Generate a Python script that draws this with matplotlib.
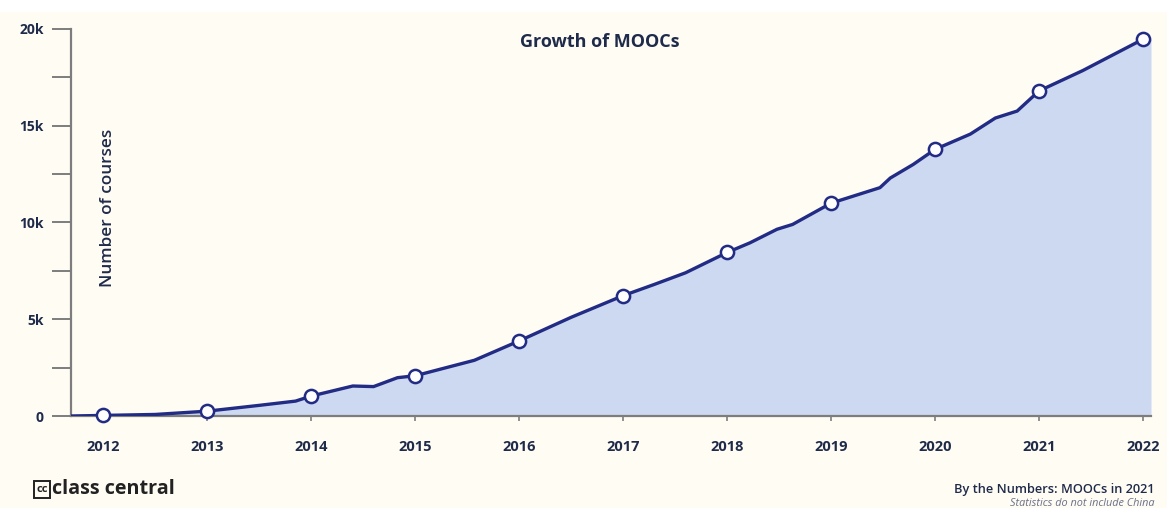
import matplotlib
matplotlib.use("Agg")
import matplotlib.pyplot as plt
from matplotlib.patches import Rectangle, FancyBboxPatch
from matplotlib.ticker import MultipleLocator

# ---- data ----
years = [2012, 2013, 2014, 2015, 2016, 2017, 2018, 2019, 2020, 2021, 2022]
year_values = [30, 250, 1030, 2080, 3880, 6220, 8450, 11000, 13780, 16800, 19470]

curve_x = [2011.69, 2012.0, 2012.5, 2013.0, 2013.5, 2013.85, 2014.0, 2014.4, 2014.6,
           2014.83, 2015.0, 2015.57, 2016.0, 2016.5, 2017.0, 2017.3, 2017.6, 2018.0,
           2018.22, 2018.48, 2018.63, 2019.0, 2019.47, 2019.57, 2019.79, 2020.0,
           2020.34, 2020.58, 2020.79, 2021.0, 2021.42, 2022.0]
curve_values = [0, 30, 80, 250, 550, 770, 1030, 1550, 1520, 1980, 2080, 2880, 3880,
                5100, 6220, 6800, 7400, 8450, 8950, 9650, 9900, 11000, 11800, 12300,
                13000, 13780, 14570, 15400, 15760, 16800, 17850, 19470]

y_major = [0, 5000, 10000, 15000, 20000]
y_labels = ["0", "5k", "10k", "15k", "20k"]

title = "Growth of MOOCs"
ylabel = "Number of courses"

# ---- style ----
BG = "#fffcf4"
NAVY = "#222c84"
FILL = "#cdd8f1"
TEXT = "#1f2b4a"
AXIS = "#7d7d7d"
FONT = "Open Sans"

plt.rcParams["font.family"] = [FONT, "DejaVu Sans"]

fig = plt.figure(figsize=(11.67, 5.08), dpi=100, facecolor=BG)
fig.patches.append(Rectangle((0, 1 - 12 / 508), 1, 12 / 508, transform=fig.transFigure,
                             facecolor="white", edgecolor="none", zorder=0))

ax = fig.add_axes([71 / 1167, 1 - 416 / 508, (1151 - 71) / 1167, (416 - 29) / 508])
ax.set_facecolor(BG)
xmin, xmax = 2011.69, 2022.077
ax.set_xlim(xmin, xmax)
ax.set_ylim(0, 20000)

fx = curve_x + [xmax]
fy = curve_values + [curve_values[-1]]
ax.fill_between(fx, fy, 0, color=FILL, linewidth=0, zorder=1)
ax.plot(curve_x, curve_values, color=NAVY, lw=2.4, solid_joinstyle="round",
        solid_capstyle="round", zorder=3)
ax.plot(years, year_values, linestyle="none", marker="o", markersize=9.5,
        markerfacecolor="white", markeredgecolor=NAVY, markeredgewidth=1.8,
        zorder=4, clip_on=False)

for s in ["top", "right"]:
    ax.spines[s].set_visible(False)
for s in ["left", "bottom"]:
    ax.spines[s].set_color(AXIS)
    ax.spines[s].set_linewidth(1.6)
    ax.spines[s].set_zorder(2)

ax.set_yticks(y_major)
ax.set_yticklabels(y_labels)
ax.yaxis.set_minor_locator(MultipleLocator(2500))
ax.tick_params(axis="y", which="both", direction="out", length=13.7, width=1.4,
               color=AXIS, pad=6, labelsize=10, labelcolor=TEXT)
ax.set_xticks(years)
ax.set_xticklabels([str(y) for y in years])
ax.tick_params(axis="x", direction="out", length=3.6, width=1.2, color=AXIS, pad=13.4,
               labelsize=10.5, labelcolor=TEXT)
for lab in ax.get_xticklabels() + ax.get_yticklabels():
    lab.set_fontweight("bold")

fig.text(600 / 1167, 1 - 42 / 508, title, ha="center", va="center", fontsize=13,
         fontweight="bold", color=TEXT)
fig.text(108 / 1167, 1 - 208 / 508, ylabel, rotation=90, ha="center", va="center",
         fontsize=12.3, fontweight="semibold", color=TEXT)

# logo
fig.patches.append(FancyBboxPatch((34 / 1167, 1 - 498 / 508), 16 / 1167, 17 / 508,
                                  boxstyle="square,pad=0", transform=fig.transFigure,
                                  facecolor="none", edgecolor="#222", lw=1.4))
fig.text(42 / 1167, 1 - 489.5 / 508, "cc", ha="center", va="center", fontsize=8,
         fontweight="bold", color="#222")
fig.text(52 / 1167, 1 - 489 / 508, "class central", ha="left", va="center",
         fontsize=14.2, fontweight="bold", color="#222")

fig.text(1154 / 1167, 1 - 489 / 508, "By the Numbers: MOOCs in 2021", ha="right",
         va="center", fontsize=9.2, fontweight="semibold", color=TEXT)
fig.text(1154 / 1167, 1 - 503 / 508, "Statistics do not include China", ha="right",
         va="center", fontsize=7.8, style="italic", color="#6b7088")

fig.savefig("out.png", dpi=100, facecolor=BG)
